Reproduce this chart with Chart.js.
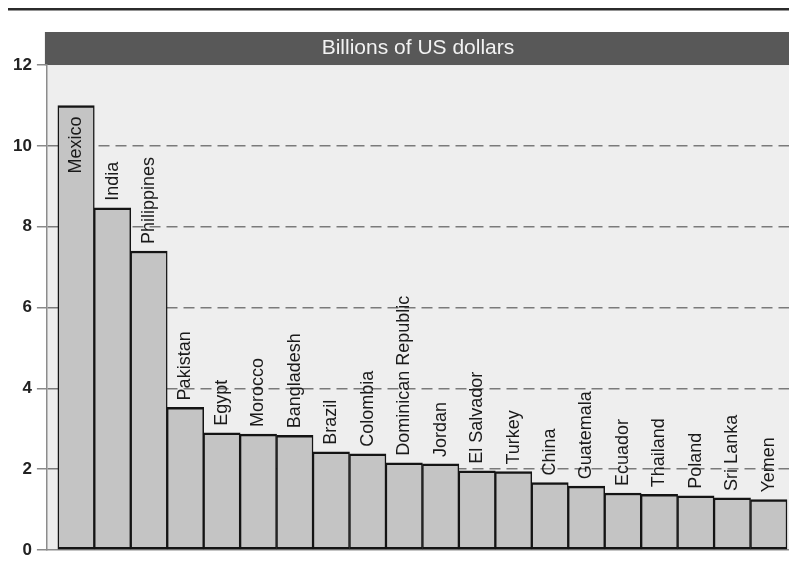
<!DOCTYPE html>
<html>
<head>
<meta charset="utf-8">
<script src="https://cdn.jsdelivr.net/npm/chart.js@4/dist/chart.umd.min.js"></script>
<style>
  html, body { margin: 0; padding: 0; background: #ffffff; }
  #wrap { width: 789px; height: 569px; }
</style>
</head>
<body>
<div id="wrap"><canvas id="c" width="789" height="569"></canvas></div>
<script>
// Workers' remittances received, top 20 countries (billions of US dollars)
const countries = [
  'Mexico', 'India', 'Philippines', 'Pakistan', 'Egypt', 'Morocco', 'Bangladesh',
  'Brazil', 'Colombia', 'Dominican Republic', 'Jordan', 'El Salvador', 'Turkey',
  'China', 'Guatemala', 'Ecuador', 'Thailand', 'Poland', 'Sri Lanka', 'Yemen'
];
const remittances = [
  11.0, 8.47, 7.4, 3.53, 2.9, 2.87, 2.84,
  2.43, 2.38, 2.16, 2.13, 1.96, 1.94,
  1.67, 1.58, 1.41, 1.38, 1.34, 1.29, 1.25
];
const yTicks = [0, 2, 4, 6, 8, 10, 12];
const unitLabel = 'Billions of US dollars';

const FONT = '"Liberation Sans", Arial, Helvetica, sans-serif';

// Page furniture: top rule, dark unit band and the light plot background
const backdrop = {
  id: 'backdrop',
  beforeDraw(chart) {
    const { ctx, chartArea: a, width } = chart;
    ctx.save();
    ctx.fillStyle = '#ffffff';
    ctx.fillRect(0, 0, width, chart.height);
    ctx.fillStyle = '#2b2b2b';
    ctx.fillRect(8, 8, width - 8, 2.5);
    ctx.fillStyle = '#585858';
    ctx.fillRect(a.left - 2, 32, a.right - a.left + 2, a.top - 32);
    ctx.fillStyle = '#eeeeee';
    ctx.fillRect(a.left, a.top, a.right - a.left, a.bottom - a.top);
    ctx.restore();
  }
};

// Country names written vertically above each bar (inside it when there is no room)
const barNames = {
  id: 'barNames',
  afterDatasetsDraw(chart) {
    const { ctx, chartArea: a } = chart;
    const meta = chart.getDatasetMeta(0);
    ctx.save();
    ctx.font = '18px ' + FONT;
    ctx.fillStyle = '#1a1a1a';
    ctx.textAlign = 'left';
    ctx.textBaseline = 'middle';
    meta.data.forEach((bar, i) => {
      const name = countries[i];
      const w = ctx.measureText(name).width;
      let start = bar.y - 7;
      if (start - w < a.top) start = bar.y + 11 + w;
      ctx.save();
      ctx.translate(bar.x, start);
      ctx.rotate(-Math.PI / 2);
      ctx.fillText(name, 0, 0);
      ctx.restore();
    });
    ctx.restore();
  }
};

new Chart(document.getElementById('c'), {
  type: 'bar',
  data: {
    datasets: [{
      data: remittances.map((v, i) => ({ x: i, y: v })),
      backgroundColor: '#c4c4c4',
      borderColor: '#141414',
      borderWidth: { top: 2.5, left: 1.5, right: 1.5, bottom: 2.5 },
      borderSkipped: false,
      barPercentage: 1,
      categoryPercentage: 1
    }]
  },
  options: {
    responsive: false,
    animation: false,
    devicePixelRatio: 1,
    layout: { padding: { top: 32, left: 8, right: 0, bottom: 19 } },
    plugins: {
      legend: { display: false },
      tooltip: { enabled: false },
      title: {
        display: true,
        text: unitLabel,
        fullSize: false,
        color: '#f2f2f2',
        font: { family: FONT, size: 21, weight: 'normal' },
        padding: { top: 4, bottom: 4 }
      }
    },
    scales: {
      x: {
        type: 'linear',
        offset: false,
        bounds: 'data',
        min: -0.8,
        max: 19.555,
        ticks: { display: false, includeBounds: false },
        grid: { display: false, drawTicks: false },
        border: { display: true, color: '#8c8c8c', width: 1.5 }
      },
      y: {
        min: yTicks[0],
        max: yTicks[yTicks.length - 1],
        afterBuildTicks: (s) => { s.ticks = yTicks.map(v => ({ value: v })); },
        ticks: {
          color: '#222222',
          padding: 5,
          font: { family: FONT, size: 17, weight: 'bold' }
        },
        grid: {
          color: (c) => (c.tick && (c.tick.value === yTicks[0] || c.tick.value === yTicks[yTicks.length - 1])) ? 'rgba(0,0,0,0)' : '#7a7a7a',
          lineWidth: 1.5,
          tickLength: 10,
          tickColor: '#8a8a8a',
          tickWidth: 1.5,
          tickBorderDash: []
        },
        border: { display: true, color: '#8c8c8c', width: 1.5, dash: [11, 6] }
      }
    }
  },
  plugins: [backdrop, barNames]
});
</script>
</body>
</html>
